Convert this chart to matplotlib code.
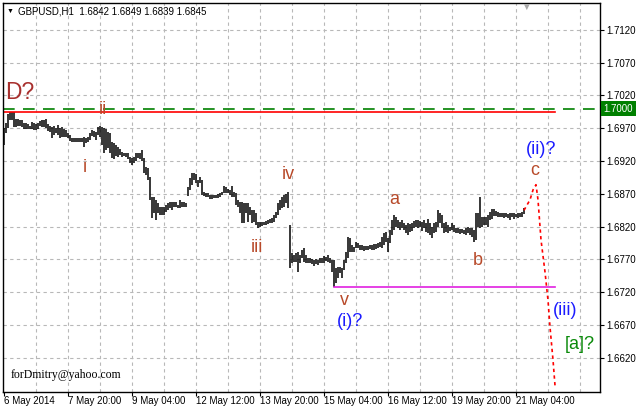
import numpy as np
import matplotlib
matplotlib.use('Agg')
import matplotlib.pyplot as plt
from matplotlib import transforms

plt.rcParams['font.family'] = ['Liberation Sans', 'DejaVu Sans']

# GBPUSD H1 bars, 6 May 2014 12:00 .. 21 May 2014 (high / low)
high_a = [1.6971, 1.6978, 1.6992, 1.6995, 1.6995, 1.6995, 1.6984, 1.6984, 1.6983, 1.6983,
          1.6978, 1.6978, 1.6977, 1.6974, 1.6980, 1.6978, 1.6977, 1.6978, 1.6981, 1.6983,
          1.6983, 1.6984, 1.6977, 1.6974, 1.6972, 1.6974, 1.6971, 1.6975, 1.6971, 1.6972,
          1.6969, 1.6968, 1.6963, 1.6960, 1.6955, 1.6955, 1.6955, 1.6955, 1.6955, 1.6955,
          1.6957, 1.6955, 1.6957, 1.6963]
low_a = [1.6945, 1.6963, 1.6971, 1.6983, 1.6983, 1.6972, 1.6972, 1.6974, 1.6974, 1.6972,
         1.6969, 1.6969, 1.6969, 1.6969, 1.6969, 1.6968, 1.6968, 1.6969, 1.6974, 1.6972,
         1.6972, 1.6971, 1.6966, 1.6964, 1.6955, 1.6960, 1.6963, 1.6960, 1.6955, 1.6957,
         1.6957, 1.6957, 1.6955, 1.6951, 1.6949, 1.6949, 1.6949, 1.6949, 1.6949, 1.6949,
         1.6942, 1.6948, 1.6949, 1.6952]

high_b = [1.6968, 1.6966, 1.6964, 1.6972, 1.6974, 1.6972, 1.6971, 1.6969, 1.6964, 1.6963,
          1.6949, 1.6948, 1.6945, 1.6942, 1.6939, 1.6934, 1.6933, 1.6933, 1.6933, 1.6926,
          1.6925, 1.6926, 1.6933, 1.6933, 1.6933, 1.6937, 1.6925, 1.6911, 1.6909, 1.6896,
          1.6865, 1.6865, 1.6861, 1.6856, 1.6850, 1.6850, 1.6850, 1.6853, 1.6856, 1.6858,
          1.6858, 1.6858, 1.6858, 1.6853, 1.6861]
low_b = [1.6958, 1.6957, 1.6952, 1.6960, 1.6957, 1.6945, 1.6933, 1.6937, 1.6940, 1.6933,
         1.6925, 1.6923, 1.6928, 1.6926, 1.6929, 1.6926, 1.6928, 1.6926, 1.6923, 1.6917,
         1.6914, 1.6917, 1.6920, 1.6925, 1.6923, 1.6920, 1.6902, 1.6899, 1.6891, 1.6861,
         1.6833, 1.6841, 1.6830, 1.6841, 1.6838, 1.6838, 1.6838, 1.6842, 1.6846, 1.6849,
         1.6846, 1.6850, 1.6850, 1.6849, 1.6849]

high_c = [1.6858, 1.6858, 1.6856, 1.6880, 1.6894, 1.6902, 1.6902, 1.6900, 1.6891, 1.6896,
          1.6891, 1.6873, 1.6871, 1.6871, 1.6868, 1.6868, 1.6868, 1.6868, 1.6870, 1.6871,
          1.6873, 1.6882, 1.6880, 1.6877, 1.6876, 1.6882, 1.6873, 1.6871, 1.6861, 1.6858,
          1.6858, 1.6856, 1.6856, 1.6856, 1.6850, 1.6846, 1.6846, 1.6841, 1.6827, 1.6827,
          1.6827, 1.6827, 1.6829, 1.6830, 1.6832]
low_c = [1.6850, 1.6850, 1.6850, 1.6867, 1.6876, 1.6884, 1.6891, 1.6887, 1.6880, 1.6887,
         1.6868, 1.6867, 1.6865, 1.6865, 1.6862, 1.6862, 1.6864, 1.6864, 1.6864, 1.6865,
         1.6868, 1.6871, 1.6871, 1.6871, 1.6868, 1.6865, 1.6865, 1.6853, 1.6850, 1.6841,
         1.6826, 1.6826, 1.6841, 1.6827, 1.6838, 1.6826, 1.6827, 1.6823, 1.6818, 1.6820,
         1.6821, 1.6823, 1.6823, 1.6824, 1.6826]

high_d = [1.6833, 1.6838, 1.6842, 1.6856, 1.6861, 1.6865, 1.6868, 1.6870, 1.6873, 1.6823,
          1.6780, 1.6777, 1.6780, 1.6781, 1.6777, 1.6785, 1.6788, 1.6777, 1.6772, 1.6772,
          1.6771, 1.6769, 1.6771, 1.6769, 1.6772, 1.6772, 1.6775, 1.6774, 1.6777, 1.6772,
          1.6769, 1.6769, 1.6757, 1.6759, 1.6759, 1.6757, 1.6769, 1.6781, 1.6804, 1.6803,
          1.6792, 1.6789, 1.6797, 1.6795, 1.6792]
low_d = [1.6826, 1.6827, 1.6833, 1.6838, 1.6846, 1.6849, 1.6850, 1.6856, 1.6849, 1.6757,
         1.6765, 1.6766, 1.6766, 1.6751, 1.6765, 1.6772, 1.6766, 1.6765, 1.6765, 1.6765,
         1.6763, 1.6760, 1.6763, 1.6762, 1.6765, 1.6765, 1.6765, 1.6768, 1.6766, 1.6765,
         1.6751, 1.6728, 1.6734, 1.6742, 1.6750, 1.6742, 1.6754, 1.6765, 1.6772, 1.6781,
         1.6781, 1.6781, 1.6788, 1.6788, 1.6785]

high_e = [1.6792, 1.6791, 1.6791, 1.6791, 1.6792, 1.6792, 1.6794, 1.6794, 1.6795, 1.6797,
          1.6804, 1.6810, 1.6812, 1.6803, 1.6815, 1.6830, 1.6838, 1.6835, 1.6830, 1.6827,
          1.6830, 1.6826, 1.6823, 1.6826, 1.6824, 1.6826, 1.6829, 1.6830, 1.6830, 1.6829,
          1.6827, 1.6830, 1.6826, 1.6832, 1.6826, 1.6820, 1.6826, 1.6827, 1.6846, 1.6841,
          1.6838, 1.6826, 1.6827, 1.6823, 1.6820]
low_e = [1.6785, 1.6783, 1.6785, 1.6785, 1.6786, 1.6785, 1.6785, 1.6786, 1.6788, 1.6789,
         1.6788, 1.6792, 1.6797, 1.6781, 1.6795, 1.6807, 1.6815, 1.6820, 1.6818, 1.6815,
         1.6818, 1.6815, 1.6810, 1.6807, 1.6812, 1.6813, 1.6818, 1.6820, 1.6818, 1.6820,
         1.6813, 1.6818, 1.6812, 1.6810, 1.6807, 1.6803, 1.6810, 1.6812, 1.6820, 1.6826,
         1.6818, 1.6810, 1.6812, 1.6810, 1.6813]

high_f = [1.6826, 1.6823, 1.6818, 1.6818, 1.6817, 1.6817, 1.6815, 1.6818, 1.6820, 1.6818,
          1.6818, 1.6815, 1.6841, 1.6841, 1.6865, 1.6835, 1.6835, 1.6835, 1.6838, 1.6842,
          1.6847, 1.6847, 1.6844, 1.6842, 1.6841, 1.6841, 1.6841, 1.6841, 1.6839, 1.6841,
          1.6841, 1.6841, 1.6839, 1.6841, 1.6841, 1.6842, 1.6849]
low_f = [1.6815, 1.6812, 1.6810, 1.6810, 1.6809, 1.6810, 1.6809, 1.6807, 1.6810, 1.6807,
         1.6804, 1.6797, 1.6800, 1.6820, 1.6818, 1.6820, 1.6823, 1.6823, 1.6820, 1.6830,
         1.6832, 1.6836, 1.6836, 1.6835, 1.6835, 1.6835, 1.6833, 1.6835, 1.6833, 1.6830,
         1.6835, 1.6832, 1.6835, 1.6833, 1.6835, 1.6835, 1.6839]

highs = high_a + high_b + high_c + high_d + high_e + high_f
lows = low_a + low_b + low_c + low_d + low_e + low_f

# forecast path (bar index, price)
fc_x = [260, 263, 264.5, 266, 267, 268.5, 270.5, 272, 273, 274.5, 275.5]
fc_y = [1.6845, 1.6861, 1.6876, 1.6884, 1.6861, 1.6800, 1.6751, 1.6708, 1.6667, 1.6617, 1.6578]

level_green = 1.7000
level_red = 1.6995
level_low = 1.6728

xtick_pos = [0, 32, 64, 96, 128, 160, 192, 224, 256]
xtick_lab = ['6 May 2014', '7 May 20:00', '9 May 04:00', '12 May 12:00', '13 May 20:00',
             '15 May 04:00', '16 May 12:00', '19 May 20:00', '21 May 04:00']
ytick_pos = [1.7120, 1.7070, 1.7020, 1.6970, 1.6920, 1.6870, 1.6820, 1.6770, 1.6720, 1.6670, 1.6620]

# wave labels: text, bar index, price, colour, size
wave_labels = [
    ('D?', 8, 1.7024, '#a8302e', 16.5),
    ('ii', 49.5, 1.6998, '#b84a2a', 13),
    ('i', 40.5, 1.6910, '#b84a2a', 13),
    ('iv', 142, 1.6900, '#b84a2a', 13),
    ('iii', 126.5, 1.6788, '#b84a2a', 13),
    ('v', 170, 1.6707, '#b84a2a', 13),
    ('(i)?', 173, 1.6676, '#1c1cff', 13),
    ('a', 195, 1.6862, '#b84a2a', 13),
    ('b', 237, 1.6769, '#b84a2a', 13),
    ('c', 265.5, 1.6905, '#b84a2a', 13),
    ('(ii)?', 268.5, 1.6937, '#1c1cff', 13),
    ('(iii)', 280.5, 1.6693, '#1c1cff', 13),
    ('[a]?', 288, 1.6640, '#0a8a0a', 13),
]

fig = plt.figure(figsize=(6.37, 4.07), dpi=100)
ax = fig.add_axes([3 / 637, 15 / 407, 597 / 637, 389 / 407])

idx = np.arange(len(highs))
ax.vlines(idx, lows, highs, color='black', linewidth=1.1)

ax.axhline(level_green, color='#008000', linewidth=1.2, dashes=(7, 5))
ax.plot([-0.5, 275.5], [level_red, level_red], color='#ff0000', linewidth=1.2)
ax.plot([165, 275.5], [level_low, level_low], color='#e020e0', linewidth=1.2)
ax.plot(fc_x, fc_y, color='#ff0000', linewidth=1.2, linestyle=(0, (2, 2)))

for txt, bx, py, col, fs in wave_labels:
    ax.text(bx, py, txt, color=col, fontsize=fs, ha='center', va='center')

ax.set_xlim(-0.5, 298)
ax.set_ylim(1.6568, 1.7161)

# grid
for g in range(16, 298, 16):
    ax.axvline(g, color='#b8b8b8', linewidth=0.8, dashes=(3, 3), zorder=0)
for p in ytick_pos:
    ax.axhline(p, color='#b8b8b8', linewidth=0.8, dashes=(3, 3), zorder=0)

ax.yaxis.tick_right()
ax.set_yticks(ytick_pos)
ax.set_yticklabels(['%.4f' % p for p in ytick_pos])
ax.set_xticks(xtick_pos)
ax.set_xticklabels(xtick_lab, ha='left')
ax.tick_params(axis='both', labelsize=7, length=3, width=0.8, colors='black')
ax.tick_params(axis='y', pad=1.5)
ax.tick_params(axis='x', pad=0)
for lab in ax.get_xticklabels():
    lab.set_horizontalalignment('left')
for s in ax.spines.values():
    s.set_color('black')
    s.set_linewidth(1.0)

# price box on the axis
tr = transforms.blended_transform_factory(ax.transAxes, ax.transData)
ax.text(1.006, level_green, '1.7000', transform=tr, fontsize=7, color='white',
        va='center', ha='left',
        bbox=dict(boxstyle='square,pad=0.25', facecolor='#008000', edgecolor='none'))

# header
fig.text(18 / 637, 1 - 11 / 407, 'GBPUSD,H1  1.6842 1.6849 1.6839 1.6845', fontsize=7,
         va='center', ha='left')
fig.text(10 / 637, 1 - 11 / 407, '\u25bc', fontsize=5, va='center', ha='center')
fig.text(526 / 637, 1 - 7 / 407, '\u25bc', fontsize=7, va='center', ha='center', color='#a8a8a8')

fig.text(11 / 637, 1 - 375 / 407, 'forDmitry@yahoo.com', fontsize=8.5, va='center', ha='left',
         family='Liberation Serif')

fig.savefig('out.png', dpi=100)
